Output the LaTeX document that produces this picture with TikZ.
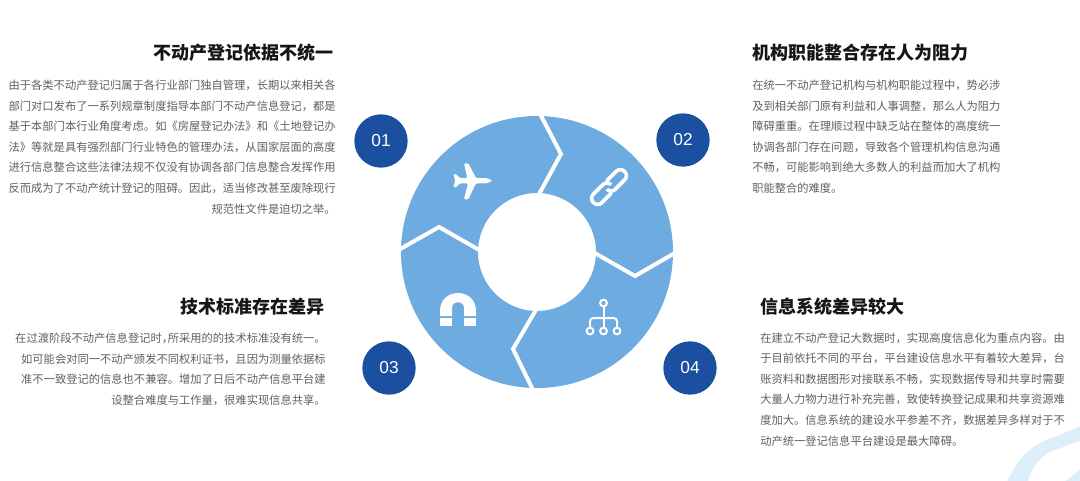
\documentclass[tikz,border=0pt]{standalone}
\usepackage{fontspec}
\setmainfont{Noto Sans CJK SC}
\newfontfamily\numfont{Liberation Sans}
\definecolor{ringblue}{HTML}{6EABE0}
\definecolor{badgeblue}{HTML}{1B4F9F}
\definecolor{bodygrey}{HTML}{606060}
\definecolor{headblack}{HTML}{161616}
\definecolor{cornerblue}{HTML}{DCEEFA}
\tikzset{
  x=0.75pt,y=-0.75pt,
  badge/.style={circle,fill=badgeblue,draw=none,minimum size=40pt,inner sep=0pt,text=white,font=\numfont\fontsize{13pt}{15pt}\selectfont},
  headline/.style={inner sep=0pt,text=headblack,font=\fontsize{13.5pt}{16pt}\selectfont\bfseries},
  bodyL/.style={inner sep=0pt,text=bodygrey,anchor=north east,align=right,font=\fontsize{8.46pt}{15.4pt}\selectfont},
  bodyR/.style={inner sep=0pt,text=bodygrey,anchor=north west,align=left,font=\fontsize{8.46pt}{15.4pt}\selectfont},
  gap/.style={draw=white,line width=3pt,line join=miter},
  chainline/.style={draw=white,line width=2.7pt,line cap=round,rounded corners=4.3pt},
  treeline/.style={draw=white,line width=1.5pt,rounded corners=2.5pt}
}
\begin{document}
\begin{tikzpicture}
\useasboundingbox (0,0) rectangle (1080,480);
\fill[white] (0,0) rectangle (1080,480);
% corner decoration
\begin{scope}
\clip (0,0) rectangle (1080,480);
\fill[cornerblue] (1006,484) .. controls (1016,462) and (1026,450) .. (1042,442) -- (1084,425) -- (1084,439) -- (1050,452) .. controls (1038,458) and (1032,468) .. (1027,484) -- cycle;
\fill[cornerblue] (1062,484) -- (1084,466) -- (1084,484) -- cycle;
\end{scope}
% ring
\coordinate (C) at (537,252);
\fill[ringblue,even odd rule] (C) circle (136) (C) circle (59);
% separators
\draw[gap] (538,110) -- (561,154) -- (538,196);
\draw[gap] (680,250) -- (635,276) -- (593,252);
\draw[gap] (535,394) -- (513,349) -- (537,308);
\draw[gap] (395,252) -- (439,227) -- (481,251);
% badges
\node[badge] (b1) at (381,141) {01};
\node[badge] (b2) at (683,140) {02};
\node[badge] (b3) at (389,368) {03};
\node[badge] (b4) at (690,368) {04};
% plane
\fill[white,rounded corners=0.9pt] (492.5,180.7) -- (486.7,178) -- (476,178) -- (468.3,163.3) -- (464,163.3) -- (467.3,178) -- (460,178) -- (456,174) -- (453.3,174) -- (455.3,180.7) -- (453.3,187.3) -- (456,187.3) -- (460,183.3) -- (468,183.3) -- (464,199.3) -- (468.3,199.3) -- (476,183.3) -- (486.7,183.3) -- cycle;
% chain
\begin{scope}[shift={(609,187)},rotate=45]
\draw[chainline] (-3,6) -- (-22,6) -- (-22,-6) -- (3,-6) -- (3,-1);
\draw[chainline] (3,-6) -- (22,-6) -- (22,6) -- (-3,6) -- (-3,1);
\end{scope}
% magnet
\fill[white] (440,316) -- (440,311) .. controls (440,287) and (476,287) .. (476,311) -- (476,316) -- (464,316) -- (464,308) .. controls (464,300) and (452,300) .. (452,308) -- (452,316) -- cycle;
\fill[white] (440,318) rectangle (452,326);
\fill[white] (464,318) rectangle (476,326);
% hierarchy
\draw[treeline] (603.5,307) -- (603.5,327);
\draw[treeline] (590,327) -- (590,318) -- (617,318) -- (617,327);
\draw[treeline] (603.5,303) circle (3.4);
\draw[treeline] (590,331) circle (3.4);
\draw[treeline] (603.5,331) circle (3.4);
\draw[treeline] (617,331) circle (3.4);
% text
\node[headline,anchor=east] (h1) at (334,53) {不动产登记依据不统一};
\node[headline,anchor=west] (h2) at (752,53) {机构职能整合存在人为阻力};
\node[headline,anchor=east] (h3) at (325,307) {技术标准存在差异};
\node[headline,anchor=west] (h4) at (760,307) {信息系统差异较大};
\node[bodyL] (t1) at (336,80) {由于各类不动产登记归属于各行业部门独自管理，长期以来相关各\\部门对口发布了一系列规章制度指导本部门不动产信息登记，都是\\基于本部门本行业角度考虑。如《房屋登记办法》和《土地登记办\\法》等就是具有强烈部门行业特色的管理办法，从国家层面的高度\\进行信息整合这些法律法规不仅没有协调各部门信息整合发挥作用\\反而成为了不动产统计登记的阻碍。因此，适当修改甚至废除现行\\规范性文件是迫切之举。};
\node[bodyR] (t2) at (752,80) {在统一不动产登记机构与机构职能过程中，势必涉\\及到相关部门原有利益和人事调整，那么人为阻力\\障碍重重。在理顺过程中缺乏站在整体的高度统一\\协调各部门存在问题，导致各个管理机构信息沟通\\不畅，可能影响到绝大多数人的利益而加大了机构\\职能整合的难度。};
\node[bodyL] (t3) at (326,333) {在过渡阶段不动产信息登记时，\hspace{-4pt}所采用的的技术标准没有统一。\\如可能会对同一不动产颁发不同权利证书，且因为测量依据标\\准不一致登记的信息也不兼容。增加了日后不动产信息平台建\\设整合难度与工作量，很难实现信息共享。};
\node[bodyR] (t4) at (760,332.5) {在建立不动产登记大数据时，实现高度信息化为重点内容。由\\于目前依托不同的平台，平台建设信息水平有着较大差异，台\\账资料和数据图形对接联系不畅，实现数据传导和共享时需要\\大量人力物力进行补充完善，致使转换登记成果和共享资源难\\度加大。信息系统的建设水平参差不齐，数据差异多样对于不\\动产统一登记信息平台建设是最大障碍。};
\end{tikzpicture}
\end{document}
